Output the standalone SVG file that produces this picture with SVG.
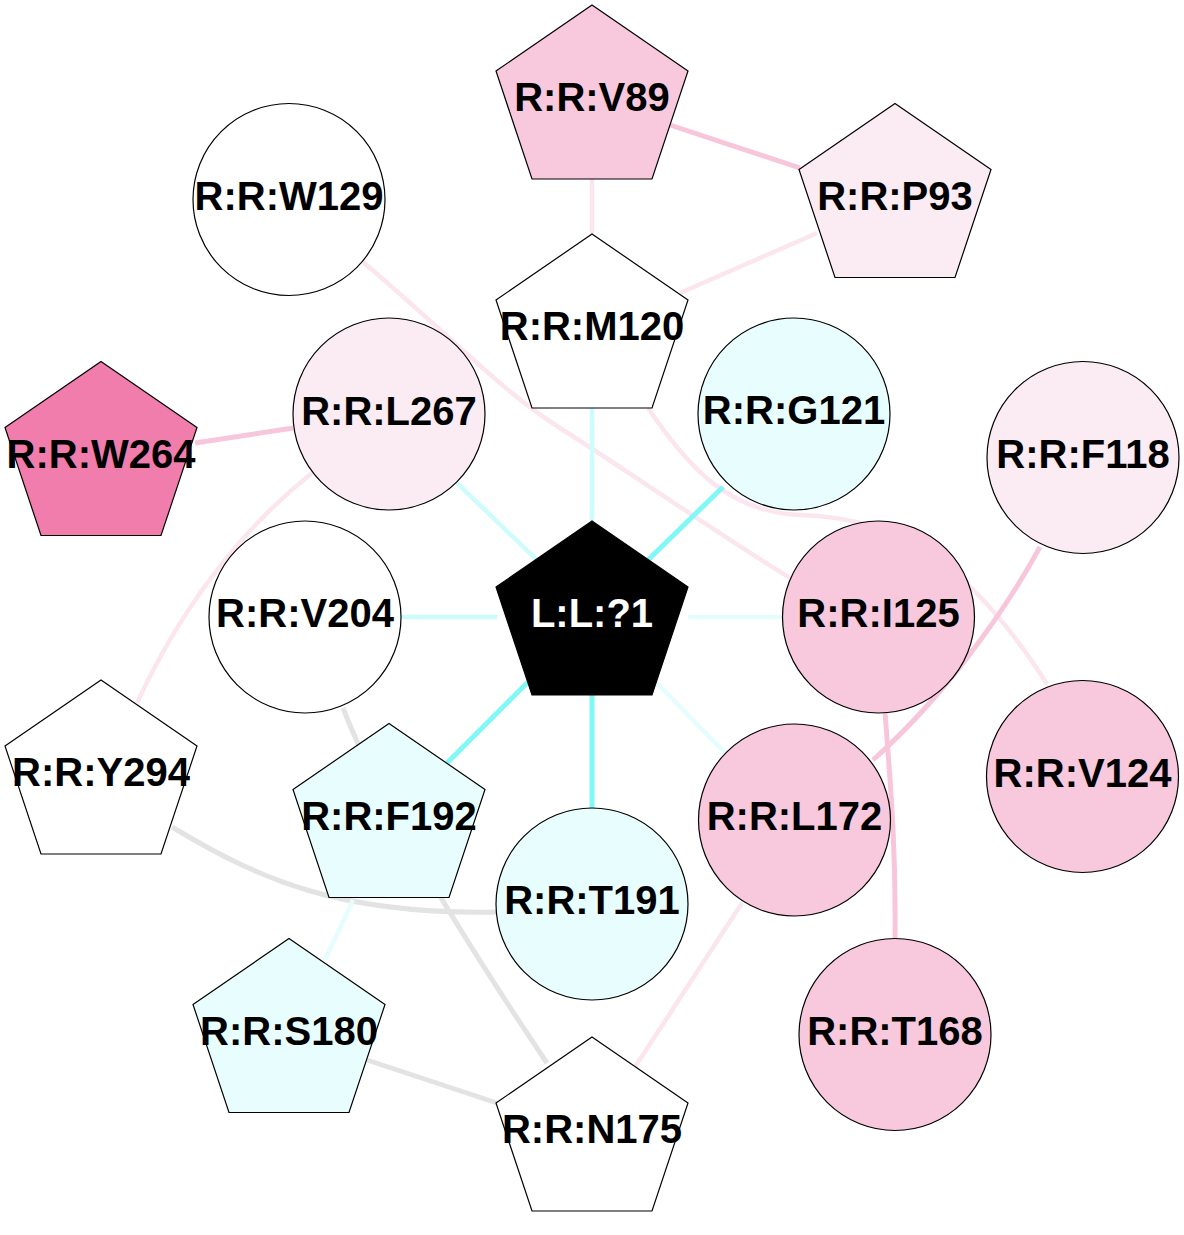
<svg xmlns="http://www.w3.org/2000/svg" width="1184" height="1235" viewBox="0 0 1184 1235">
<style>
  .n { stroke: #000; stroke-width: 1.2; }
  .t { font-family: "Liberation Sans", Arial, sans-serif; font-weight: bold; font-size: 40px; text-anchor: middle; fill: #000; }
  .w { fill: #fff; }
  .pk { fill: #f8c8dd; }
  .lp { fill: #fbebf2; }
  .hp { fill: #f07dab; }
  .cy { fill: #e8fefe; }
  .bk { fill: #000; }
  .e { fill: none; stroke-linecap: butt; }
  .ep { stroke: #f8c6da; stroke-width: 5; }
  .elp { stroke: #fbe6ef; stroke-width: 4.5; }
  .ec { stroke: #80f8f8; stroke-width: 5; }
  .elc { stroke: #ccfcfc; stroke-width: 4.5; }
  .evc { stroke: #e6fdfd; stroke-width: 4.5; }
  .eg { stroke: #e3e3e3; stroke-width: 5; }
</style>
<rect width="1184" height="1235" fill="#fff"/>
<g id="edges">
  <line class="e ep" x1="670" y1="125" x2="800" y2="168"/>
  <line class="e elp" x1="592" y1="179" x2="592" y2="234"/>
  <line class="e elp" x1="817" y1="233" x2="680" y2="293"/>
  <line class="e ep" x1="195" y1="443" x2="293" y2="428"/>
  <path class="e elp" d="M363,262 C455,340 500,390 560,428 S720,535 790,578"/>
  <path class="e elp" d="M648,408 C690,470 730,512 800,515 C890,517 965,555 1047,684"/>
  <path class="e ep" d="M1040,547 C1000,620 940,700 873,760"/>
  <path class="e ep" d="M885,713 C892,800 896,860 895,938"/>
  <path class="e elp" d="M312,473 C240,530 180,610 137,703"/>
  <line class="e elc" x1="592" y1="408" x2="592" y2="521"/>
  <line class="e elc" x1="457" y1="483" x2="537" y2="560"/>
  <line class="e ec" x1="723" y1="487" x2="648" y2="560"/>
  <line class="e elc" x1="401" y1="617" x2="497" y2="617"/>
  <line class="e evc" x1="688" y1="617" x2="783" y2="617"/>
  <line class="e ec" x1="447" y1="763" x2="528" y2="682"/>
  <line class="e ec" x1="592" y1="695" x2="592" y2="808"/>
  <line class="e evc" x1="657" y1="683" x2="725" y2="753"/>
  <path class="e eg" d="M343,708 Q390,830 547,1063"/>
  <path class="e eg" d="M172,827 C260,880 340,915 497,912"/>
  <line class="e eg" x1="367" y1="1060" x2="497" y2="1103"/>
  <line class="e evc" x1="353" y1="900" x2="325" y2="960"/>
  <line class="e elp" x1="742" y1="903" x2="635" y2="1067"/>
</g>
<g id="V89"><polygon class="n pk" points="592,5 688,71 652,179 532,179 496,71"/><text class="t" x="592" y="111">R:R:V89</text></g>
<g id="P93"><polygon class="n lp" points="895,103.5 991,169.5 955,277.5 835,277.5 799,169.5"/><text class="t" x="895" y="209.5">R:R:P93</text></g>
<g id="W129"><circle class="n w" cx="289" cy="199.5" r="96"/><text class="t" x="289" y="209.5">R:R:W129</text></g>
<g id="M120"><polygon class="n w" points="592,234 688,300 652,408 532,408 496,300"/><text class="t" x="592" y="340">R:R:M120</text></g>
<g id="G121"><circle class="n cy" cx="794" cy="414" r="96"/><text class="t" x="794" y="424">R:R:G121</text></g>
<g id="L267"><circle class="n lp" cx="389" cy="414" r="96"/><text class="t" x="389" y="425">R:R:L267</text></g>
<g id="W264"><polygon class="n hp" points="101,361.5 197,427.5 161,535.5 41,535.5 5,427.5"/><text class="t" x="101" y="468">R:R:W264</text></g>
<g id="F118"><circle class="n lp" cx="1083" cy="457.5" r="96"/><text class="t" x="1083" y="467.5">R:R:F118</text></g>
<g id="L1"><polygon class="n bk" points="592,521 688,587 652,695 532,695 496,587"/><text class="t" x="592" y="627" style="fill:#fff">L:L:?1</text></g>
<g id="V204"><circle class="n w" cx="305" cy="617" r="96"/><text class="t" x="305" y="627">R:R:V204</text></g>
<g id="I125"><circle class="n pk" cx="878.5" cy="617" r="96"/><text class="t" x="878.5" y="627">R:R:I125</text></g>
<g id="Y294"><polygon class="n w" points="101,680 197,746 161,854 41,854 5,746"/><text class="t" x="101" y="786">R:R:Y294</text></g>
<g id="F192"><polygon class="n cy" points="389,723.5 485,789.5 449,897.5 329,897.5 293,789.5"/><text class="t" x="389" y="830">R:R:F192</text></g>
<g id="L172"><circle class="n pk" cx="794.5" cy="820" r="96"/><text class="t" x="794.5" y="830">R:R:L172</text></g>
<g id="V124"><circle class="n pk" cx="1082.5" cy="776.5" r="96"/><text class="t" x="1082.5" y="786.5">R:R:V124</text></g>
<g id="T191"><circle class="n cy" cx="592" cy="904" r="96"/><text class="t" x="592" y="913.5">R:R:T191</text></g>
<g id="S180"><polygon class="n cy" points="289,938.5 385,1004.5 349,1112.5 229,1112.5 193,1004.5"/><text class="t" x="289" y="1044.5">R:R:S180</text></g>
<g id="T168"><circle class="n pk" cx="895" cy="1034.5" r="96"/><text class="t" x="895" y="1045">R:R:T168</text></g>
<g id="N175"><polygon class="n w" points="592,1037 688,1103 652,1211 532,1211 496,1103"/><text class="t" x="592" y="1143">R:R:N175</text></g>
</svg>
